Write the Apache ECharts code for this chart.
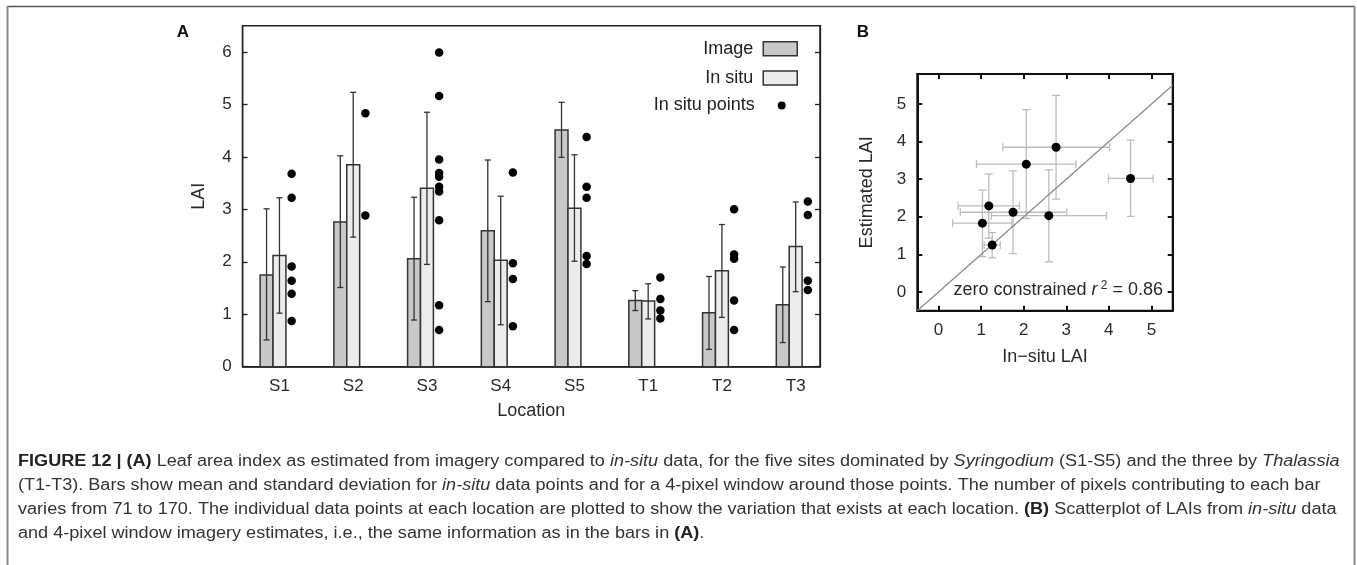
<!DOCTYPE html>
<html>
<head>
<meta charset="utf-8">
<script src="https://cdn.jsdelivr.net/npm/echarts@6/dist/echarts.min.js"></script>
<style>
  html, body { margin: 0; padding: 0; background: #fff; }
  #chart { width: 1357px; height: 565px; }
</style>
</head>
<body>
<div id="chart"></div>
<script>
// locations (panel A categories)
var locations = ['S1', 'S2', 'S3', 'S4', 'S5', 'T1', 'T2', 'T3'];
// image (4-pixel window) mean and sd range
var imageMean = [1.75, 2.76, 2.06, 2.59, 4.51, 1.26, 1.03, 1.18];
var imageLo   = [0.51, 1.51, 0.89, 1.24, 3.99, 1.07, 0.33, 0.46];
var imageHi   = [3.01, 4.02, 3.23, 3.94, 5.04, 1.45, 1.72, 1.90];
// in situ mean and sd range
var situMean = [2.12, 3.85, 3.40, 2.03, 3.02, 1.25, 1.83, 2.29];
var situLo   = [1.02, 2.47, 1.95, 0.80, 2.01, 0.91, 0.94, 1.43];
var situHi   = [3.22, 5.23, 4.85, 3.25, 4.04, 1.58, 2.71, 3.14];
// individual in situ points per location
var situPoints = [
  [3.68, 3.22, 1.91, 1.64, 1.39, 0.87],
  [4.83, 2.88],
  [5.99, 5.16, 3.95, 3.69, 3.62, 3.43, 3.34, 2.79, 1.17, 0.70],
  [3.70, 1.97, 1.67, 0.77],
  [4.38, 3.43, 3.22, 2.11, 1.96],
  [1.70, 1.29, 1.07, 0.92],
  [3.00, 2.14, 2.06, 1.26, 0.70],
  [3.15, 2.89, 1.64, 1.46]
];
var ticksA = [0, 1, 2, 3, 4, 5, 6];
var ticksB = [0, 1, 2, 3, 4, 5];
// zero constrained fit (panel B)
var fitSlope = 1.0;
var fitX = [-0.5, 5.5];

var barW = 0.175;   // bar width in category units
var ptOff = 0.165;  // offset of the point column

var FONT = '"Liberation Sans", Arial, sans-serif';
var INK = '#222';

var imageData = [], situData = [], imageErr = [], situErr = [], pointData = [];
var scatB = [], errB = [], fitData = [];
for (var i = 0; i < locations.length; i++) {
  imageData.push([i, imageMean[i]]);
  situData.push([i, situMean[i]]);
  imageErr.push([i - barW, imageLo[i], imageHi[i]]);
  situErr.push([i, situLo[i], situHi[i]]);
  for (var j = 0; j < situPoints[i].length; j++) {
    pointData.push([i + ptOff, situPoints[i][j]]);
  }
  scatB.push([imageMean[i], situMean[i]]);
  errB.push([imageMean[i], situMean[i], imageLo[i], imageHi[i], situLo[i], situHi[i]]);
}
for (var k = 0; k < fitX.length; k++) fitData.push([fitX[k], fitX[k] * fitSlope]);

function barItem(offset) {
  return function (params, api) {
    var c = api.value(0), v = api.value(1);
    var p0 = api.coord([c + offset - barW / 2, v]);
    var p1 = api.coord([c + offset + barW / 2, 0]);
    return {
      type: 'rect',
      shape: { x: p0[0], y: p0[1], width: p1[0] - p0[0], height: p1[1] - p0[1] },
      style: api.style()
    };
  };
}

function errItem(params, api) {
  var x = api.value(0);
  var top = api.coord([x, api.value(2)]);
  var bot = api.coord([x, api.value(1)]);
  var st = { stroke: '#333', lineWidth: 1.3 };
  return {
    type: 'group',
    children: [
      { type: 'line', shape: { x1: top[0], y1: top[1], x2: bot[0], y2: bot[1] }, style: st },
      { type: 'line', shape: { x1: top[0] - 3, y1: top[1], x2: top[0] + 3, y2: top[1] }, style: st },
      { type: 'line', shape: { x1: bot[0] - 3, y1: bot[1], x2: bot[0] + 3, y2: bot[1] }, style: st }
    ]
  };
}

function errItemB(params, api) {
  var c = api.coord([api.value(0), api.value(1)]);
  var l = api.coord([api.value(2), api.value(1)]);
  var r = api.coord([api.value(3), api.value(1)]);
  var b = api.coord([api.value(0), api.value(4)]);
  var t = api.coord([api.value(0), api.value(5)]);
  var st = { stroke: '#bdbdbd', lineWidth: 1.3 };
  var h = 4;
  return {
    type: 'group',
    children: [
      { type: 'line', shape: { x1: l[0], y1: c[1], x2: r[0], y2: c[1] }, style: st },
      { type: 'line', shape: { x1: l[0], y1: c[1] - h, x2: l[0], y2: c[1] + h }, style: st },
      { type: 'line', shape: { x1: r[0], y1: c[1] - h, x2: r[0], y2: c[1] + h }, style: st },
      { type: 'line', shape: { x1: c[0], y1: b[1], x2: c[0], y2: t[1] }, style: st },
      { type: 'line', shape: { x1: c[0] - h, y1: b[1], x2: c[0] + h, y2: b[1] }, style: st },
      { type: 'line', shape: { x1: c[0] - h, y1: t[1], x2: c[0] + h, y2: t[1] }, style: st }
    ]
  };
}

// frame axis: line + inward ticks, optional labels
function frameAxis(opt) {
  var col = opt.color || INK, w = opt.width || 1.5;
  var a = {
    type: 'value', gridIndex: opt.grid, min: opt.min, max: opt.max,
    axisLine: { show: true, onZero: false, lineStyle: { color: col, width: w } },
    axisTick: opt.ticks ? { show: true, inside: true, length: 5, customValues: opt.ticks, lineStyle: { color: col, width: w } } : { show: false },
    splitLine: { show: false },
    axisLabel: opt.labels ? { customValues: opt.labels, margin: opt.margin || 11, fontSize: 17, color: '#2a2a2a', fontFamily: FONT, formatter: opt.formatter } : { show: false }
  };
  if (opt.position) a.position = opt.position;
  if (opt.name) {
    a.name = opt.name; a.nameLocation = 'middle'; a.nameGap = opt.nameGap;
    a.nameTextStyle = { fontFamily: FONT, fontSize: 18, color: '#2a2a2a' };
    if (opt.rotate) a.nameRotate = 90;
  }
  return a;
}

var chart = echarts.init(document.getElementById('chart'), null, { renderer: 'canvas' });

var option = {
  animation: false,
  backgroundColor: '#fff',
  textStyle: { fontFamily: FONT },
  grid: [
    { left: 242.6, top: 25.7, width: 577.4, height: 341, show: true, borderColor: INK, borderWidth: 1.5 },
    { left: 917.3, top: 74, width: 255.4, height: 236.7, show: true, borderColor: '#111', borderWidth: 2 }
  ],
  legend: [{
    orient: 'vertical', align: 'right', right: 559, top: 39.7, padding: 0, itemGap: 11.3,
    itemWidth: 34, itemHeight: 14, icon: 'rect',
    textStyle: { fontFamily: FONT, fontSize: 18, color: INK, padding: [0, 5, 0, 0] },
    data: [
      { name: 'Image', itemStyle: { color: '#c8c8c8', borderColor: '#333', borderWidth: 1.5 } },
      { name: 'In situ', itemStyle: { color: '#ececec', borderColor: '#333', borderWidth: 1.5 } }
    ]
  }, {
    orient: 'vertical', align: 'right', right: 571.3, top: 96.5, padding: 0,
    itemWidth: 34, itemHeight: 8, icon: 'circle',
    textStyle: { fontFamily: FONT, fontSize: 18, color: INK, padding: [0, 5, 0, 0] },
    data: [{ name: 'In situ points', itemStyle: { color: '#000', opacity: 1 } }]
  }],
  xAxis: [
    frameAxis({ grid: 0, min: -0.5, max: 7.33, labels: [0, 1, 2, 3, 4, 5, 6, 7], margin: 11,
      formatter: function (v) { return locations[Math.round(v)]; },
      name: 'Location', nameGap: 35 }),
    frameAxis({ grid: 1, min: -0.5, max: 5.5, color: '#111', width: 2, ticks: ticksB, labels: ticksB,
      name: 'In\u2212situ LAI', nameGap: 37 }),
    frameAxis({ grid: 1, min: -0.5, max: 5.5, color: '#111', width: 2, ticks: ticksB, position: 'top' })
  ],
  yAxis: [
    frameAxis({ grid: 0, min: 0, max: 6.5, width: 1.3, ticks: ticksA, labels: ticksA,
      name: 'LAI', nameGap: 35, rotate: true }),
    frameAxis({ grid: 0, min: 0, max: 6.5, width: 1.3, ticks: ticksA, position: 'right' }),
    frameAxis({ grid: 1, min: -0.5, max: 5.8, color: '#111', width: 2, ticks: ticksB, labels: ticksB,
      name: 'Estimated LAI', nameGap: 41, rotate: true }),
    frameAxis({ grid: 1, min: -0.5, max: 5.8, color: '#111', width: 2, ticks: ticksB, position: 'right' })
  ],
  series: [
    {
      name: 'Image', type: 'custom', xAxisIndex: 0, yAxisIndex: 0,
      renderItem: barItem(-barW), data: imageData,
      itemStyle: { color: '#c8c8c8', borderColor: '#333', borderWidth: 1.5 }
    },
    {
      name: 'In situ', type: 'custom', xAxisIndex: 0, yAxisIndex: 0,
      renderItem: barItem(0), data: situData,
      itemStyle: { color: '#ececec', borderColor: '#333', borderWidth: 1.5 }
    },
    { name: 'imgErr', type: 'custom', xAxisIndex: 0, yAxisIndex: 0, renderItem: errItem, data: imageErr, z: 3 },
    { name: 'situErr', type: 'custom', xAxisIndex: 0, yAxisIndex: 0, renderItem: errItem, data: situErr, z: 3 },
    {
      name: 'In situ points', type: 'scatter', xAxisIndex: 0, yAxisIndex: 0,
      data: pointData, symbolSize: 8.5, itemStyle: { color: '#000', opacity: 1 }
    },
    {
      name: 'fit', type: 'line', xAxisIndex: 1, yAxisIndex: 2, data: fitData,
      symbol: 'none', lineStyle: { color: '#888', width: 1.2 }, clip: true, z: 2
    },
    { name: 'errB', type: 'custom', xAxisIndex: 1, yAxisIndex: 2, renderItem: errItemB, data: errB, z: 1 },
    {
      name: 'scatB', type: 'scatter', xAxisIndex: 1, yAxisIndex: 2,
      data: scatB, symbolSize: 9, itemStyle: { color: '#000', opacity: 1 }, z: 4
    }
  ],
  graphic: [
    // frame around the figure
    { type: 'line', shape: { x1: 7, y1: 6.5, x2: 1355, y2: 6.5 }, style: { stroke: '#555', lineWidth: 1.5 } },
    { type: 'line', shape: { x1: 7.5, y1: 6, x2: 7.5, y2: 565 }, style: { stroke: '#888', lineWidth: 2 } },
    { type: 'line', shape: { x1: 1354.5, y1: 6, x2: 1354.5, y2: 565 }, style: { stroke: '#888', lineWidth: 2 } },
    // panel labels
    { type: 'text', x: 183, y: 32, style: { text: 'A', font: 'bold 17px ' + FONT, fill: '#111', align: 'center', verticalAlign: 'middle' } },
    { type: 'text', x: 863, y: 32, style: { text: 'B', font: 'bold 17px ' + FONT, fill: '#111', align: 'center', verticalAlign: 'middle' } },
    {
      type: 'text', x: 1163, y: 290, z: 10,
      style: {
        text: '{n|zero constrained }{i|r}{s| 2}{n| = 0.86}',
        align: 'right', verticalAlign: 'middle',
        rich: {
          n: { fontFamily: FONT, fontSize: 18, fill: '#2a2a2a', lineHeight: 20 },
          i: { fontFamily: FONT, fontSize: 18, fontStyle: 'italic', fill: '#2a2a2a', lineHeight: 20 },
          s: { fontFamily: FONT, fontSize: 12, fill: '#2a2a2a', lineHeight: 20, verticalAlign: 'top' }
        }
      }
    }
  ]
};

// caption lines
var capRich = {
  n: { fontFamily: FONT, fontSize: 16, fill: '#333' },
  b: { fontFamily: FONT, fontSize: 16, fill: '#222', fontWeight: 'bold' },
  i: { fontFamily: FONT, fontSize: 16, fill: '#333', fontStyle: 'italic' }
};
var capLines = [
  '{b|FIGURE 12 | (A)}{n| Leaf area index as estimated from imagery compared to }{i|in-situ}{n| data, for the five sites dominated by }{i|Syringodium}{n| (S1-S5) and the three by }{i|Thalassia}',
  '{n|(T1-T3). Bars show mean and standard deviation for }{i|in-situ}{n| data points and for a 4-pixel window around those points. The number of pixels contributing to each bar}',
  '{n|varies from 71 to 170. The individual data points at each location are plotted to show the variation that exists at each location. }{b|(B)}{n| Scatterplot of LAIs from }{i|in-situ}{n| data}',
  '{n|and 4-pixel window imagery estimates, i.e., the same information as in the bars in }{b|(A)}{n|.}'
];
for (var m = 0; m < capLines.length; m++) {
  option.graphic.push({
    type: 'text', x: 18, y: 462 + m * 24, scaleX: 1.13,
    style: { text: capLines[m], rich: capRich, verticalAlign: 'middle' }
  });
}

chart.setOption(option);
</script>
</body>
</html>
